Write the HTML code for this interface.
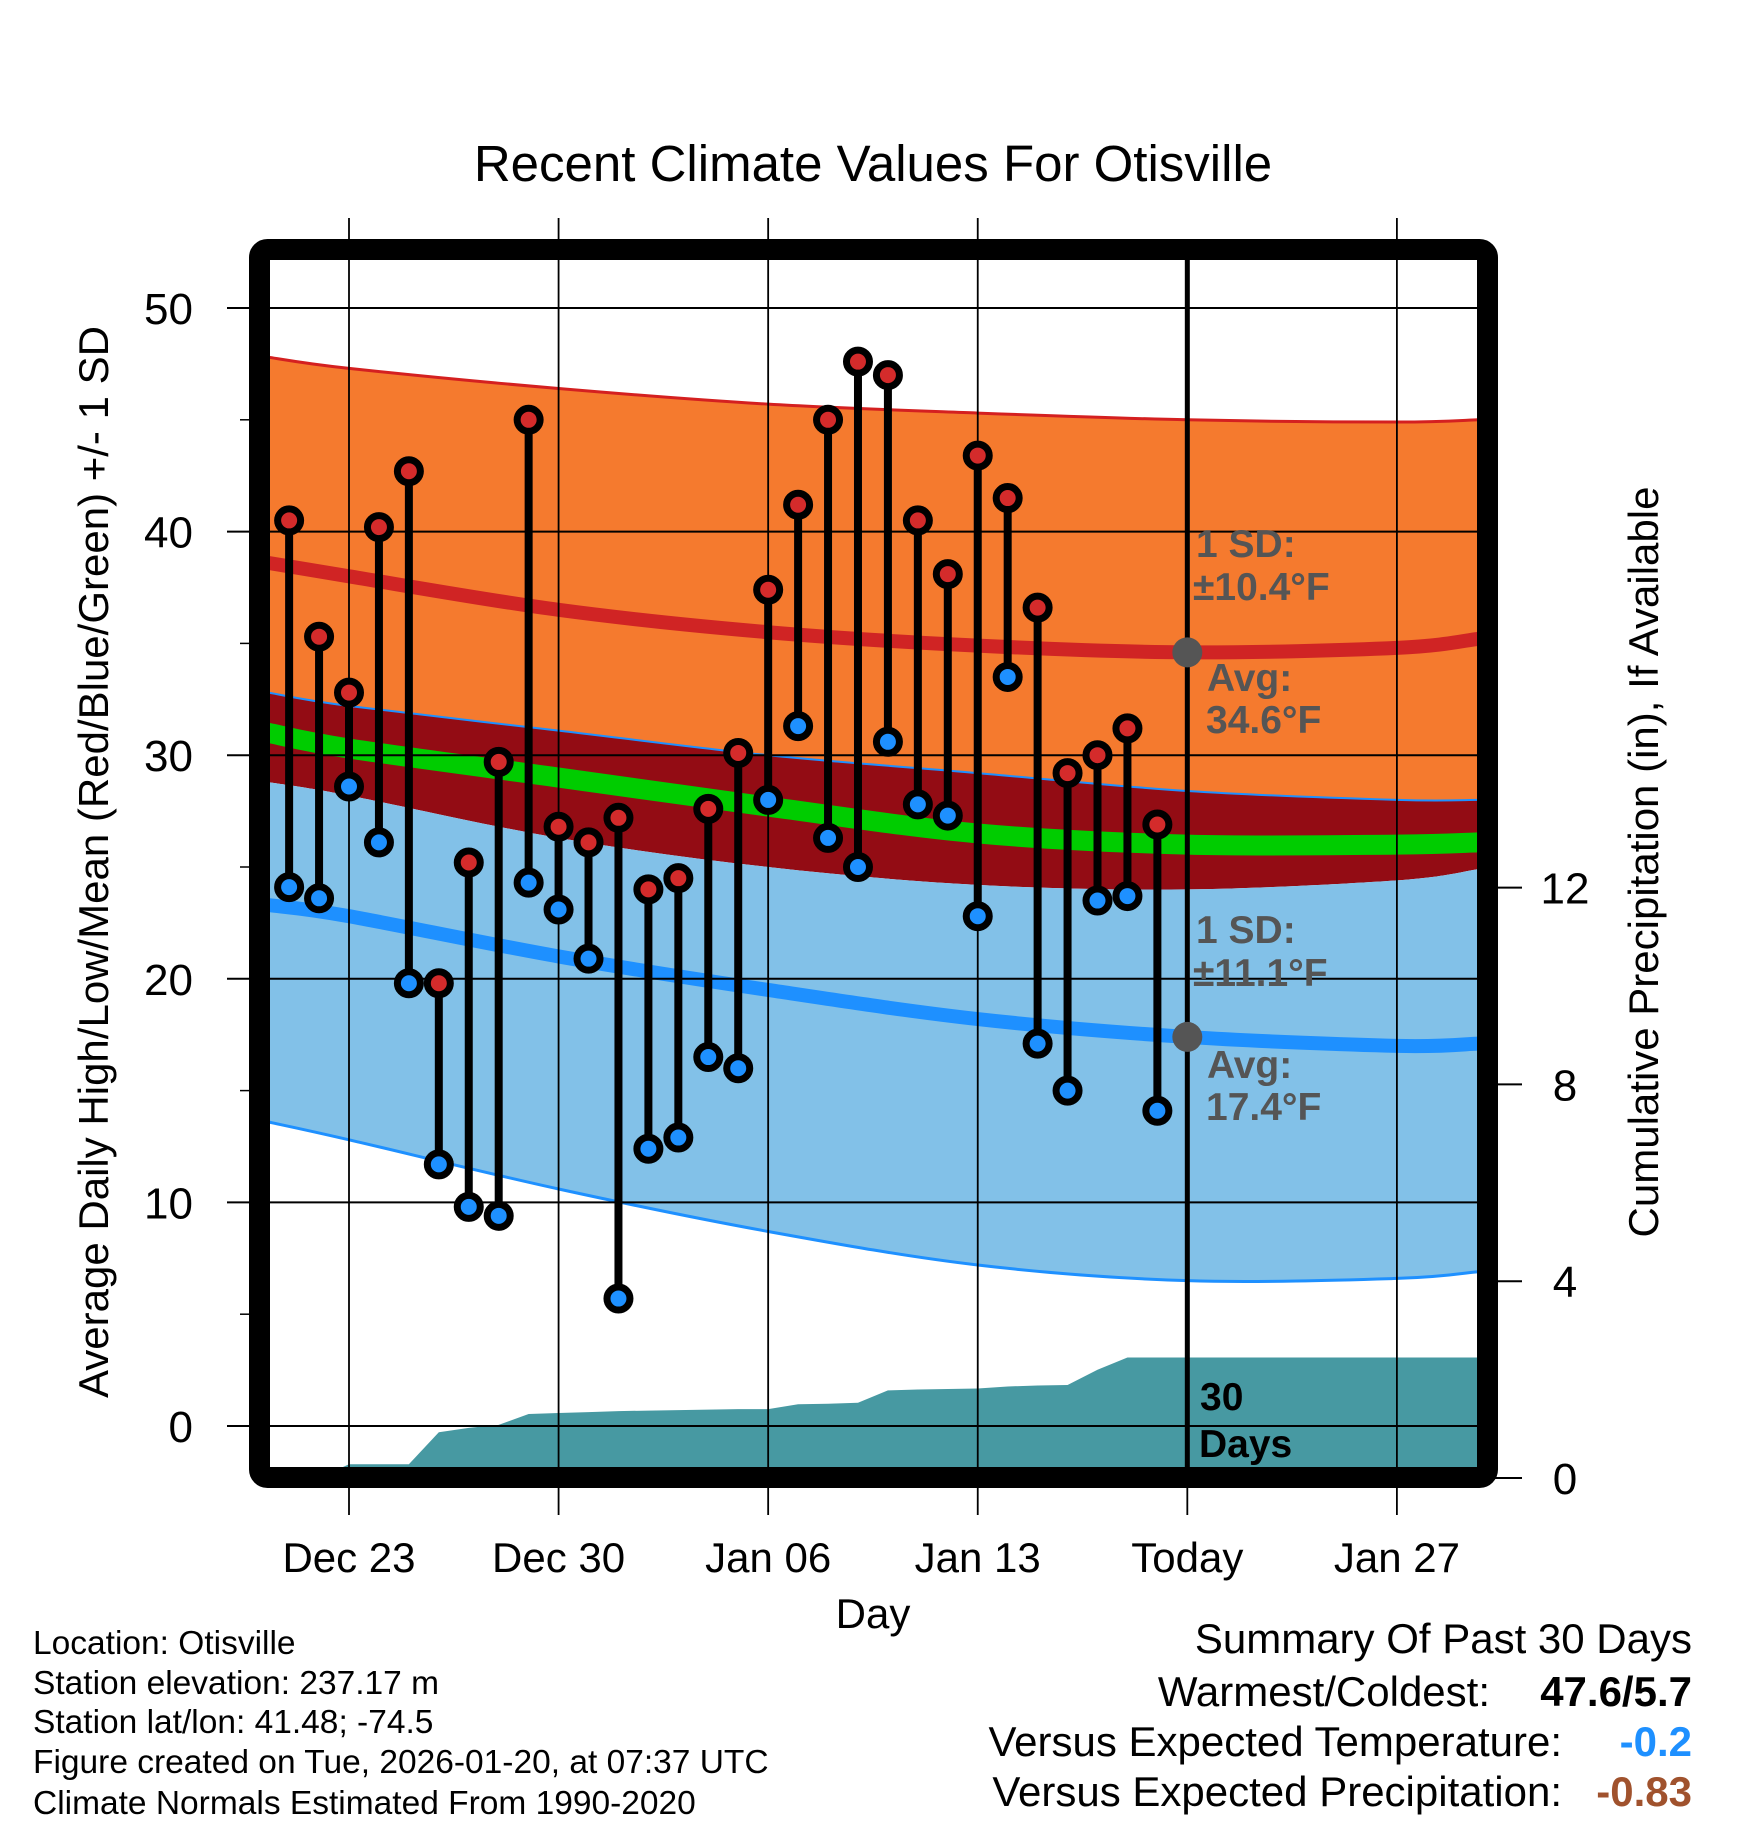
<!DOCTYPE html>
<html><head><meta charset="utf-8"><style>
html,body{margin:0;padding:0;background:#fff;}
svg{display:block;font-family:"Liberation Sans",Arial,sans-serif;}
</style></head><body>
<svg id="chart" width="1748" height="1828" viewBox="0 0 1748 1828" xmlns="http://www.w3.org/2000/svg">
<text x="873" y="181" font-size="51" text-anchor="middle">Recent Climate Values For Otisville</text>
<g id="plot"></g>
<g id="axes"></g>
<text transform="translate(108,862) rotate(-90)" font-size="42" text-anchor="middle">Average Daily High/Low/Mean (Red/Blue/Green) +/- 1 SD</text>
<text transform="translate(1658,862) rotate(-90)" font-size="42" text-anchor="middle">Cumulative Precipitation (in), If Available</text>
<text x="873" y="1628" font-size="42" text-anchor="middle">Day</text>
<g font-size="33.5">
<text x="33" y="1654">Location: Otisville</text>
<text x="33" y="1694">Station elevation: 237.17 m</text>
<text x="33" y="1733">Station lat/lon: 41.48; -74.5</text>
<text x="33" y="1773">Figure created on Tue, 2026-01-20, at 07:37 UTC</text>
<text x="33" y="1814">Climate Normals Estimated From 1990-2020</text>
</g>
<g font-size="42" text-anchor="end">
<text x="1692" y="1653">Summary Of Past 30 Days</text>
<text x="1490" y="1706">Warmest/Coldest:</text>
<text x="1692" y="1706" font-weight="bold">47.6/5.7</text>
<text x="1562" y="1756">Versus Expected Temperature:</text>
<text x="1692" y="1756" font-weight="bold" fill="#1e90ff">-0.2</text>
<text x="1562" y="1806">Versus Expected Precipitation:</text>
<text x="1692" y="1806" font-weight="bold" fill="#a0522d">-0.83</text>
</g>
</svg>
<script>
// ---- data ----
const days = [-2,-1,0,1,2,3,4,5,6,7,8,9,10,11,12,13,14,15,16,17,18,19,20,21,22,23,24,25,26,27];
const highs = [40.5,35.3,32.8,40.2,42.7,19.8,25.2,29.7,45.0,26.8,26.1,27.2,24.0,24.5,27.6,30.1,37.4,41.2,45.0,47.6,47.0,40.5,38.1,43.4,41.5,36.6,29.2,30.0,31.2,26.9];
const lows = [24.1,23.6,28.6,26.1,19.8,11.7,9.8,9.4,24.3,23.1,20.9,5.7,12.4,12.9,16.5,16.0,28.0,31.3,26.3,25.0,30.6,27.8,27.3,22.8,33.5,17.1,15.0,23.5,23.7,14.1];
const precip = [0,0,0.28,0.28,0.28,0.93,1.02,1.08,1.30,1.32,1.34,1.36,1.37,1.38,1.39,1.40,1.40,1.50,1.51,1.53,1.78,1.80,1.81,1.82,1.86,1.88,1.89,2.20,2.45,2.45];
const normDays = [-2.7,0,7,14,21,28,35,37.7];
const hiPlus = [47.8,47.3,46.4,45.7,45.3,45.0,44.9,45.0];
const hiAvg = [38.6,38.0,36.5,35.5,34.9,34.6,34.8,35.2];
const hiMinus = [32.8,32.2,31.1,30.0,29.2,28.4,28.0,28.0];
const meanAvg = [31.0,30.3,29.0,27.7,26.5,26.0,26.0,26.1];
const loPlus = [28.8,28.2,26.3,25.0,24.2,24.0,24.4,24.9];
const loAvg = [23.3,22.8,21.0,19.5,18.2,17.4,17.0,17.1];
const loMinus = [13.6,12.8,10.6,8.7,7.2,6.5,6.6,6.9];
const yTicks = [0,10,20,30,40,50];
const y2Ticks = [0,4,8,12];
const xTickDays = [0,7,14,21,28,35];
const xTickLabels = ["Dec 23","Dec 30","Jan 06","Jan 13","Today","Jan 27"];
const todayDay = 28;
const todayHi = 34.6, todayLo = 17.4;

// ---- axes ----
const L=270,R=1478,T=260,B=1468;
const X=d=>349+d*29.94;
const Y=v=>1426-v*22.36;
const P=v=>1478-v*49.2;
const NS='http://www.w3.org/2000/svg';
const plot=document.getElementById('plot'), axes=document.getElementById('axes');
function mk(tag,attrs,parent){const e=document.createElementNS(NS,tag);for(const k in attrs)e.setAttribute(k,attrs[k]);parent.appendChild(e);return e;}
function curvePts(arr){const pts=[];for(let i=0;i<normDays.length;i++)pts.push([X(normDays[i]),Y(arr[i])]);return pts;}
function cr(pts){let d='M'+pts[0][0]+','+pts[0][1];for(let i=0;i<pts.length-1;i++){const p0=pts[Math.max(0,i-1)],p1=pts[i],p2=pts[i+1],p3=pts[Math.min(pts.length-1,i+2)];
d+=' C'+(p1[0]+(p2[0]-p0[0])/6)+','+(p1[1]+(p2[1]-p0[1])/6)+' '+(p2[0]-(p3[0]-p1[0])/6)+','+(p2[1]-(p3[1]-p1[1])/6)+' '+p2[0]+','+p2[1];}return d;}
function band(top,bot,fill,name){const a=curvePts(top),b=curvePts(bot).reverse();
const rev=cr(b).replace(/^M/,' L');
const p=mk('path',{d:cr(a)+rev+' Z',fill:fill},plot);

}
const clip=mk('clipPath',{id:'cl'},mk('defs',{},plot));mk('rect',{x:L,y:T,width:R-L,height:B-T},clip);
plot.setAttribute('clip-path','url(#cl)');
band(hiPlus,hiMinus,'#f57a2e','high-sd-band');
band(hiMinus,loPlus,'#930c14','overlap-band');
band(loPlus,loMinus,'#82c1e8','low-sd-band');
function line(arr,col,w,name){const p=mk('path',{d:cr(curvePts(arr)),fill:'none',stroke:col,'stroke-width':w},plot);

}
line(hiPlus,'#d42020',3,'high-plus-sd-line');
line(hiMinus,'#1e90ff',2,'high-minus-sd-line');
line(loMinus,'#1e90ff',3,'low-minus-sd-line');
line(meanAvg,'#00cc00',20,'mean-avg-line');
line(hiAvg,'#d02424',14,'high-avg-line');
line(loAvg,'#1e90ff',14,'low-avg-line');
let pd='M'+X(days[0])+','+(B+5);
for(let i=0;i<days.length;i++)pd+=' L'+X(days[i])+','+P(precip[i]);
pd+=' L'+(R+5)+','+P(precip[precip.length-1])+' L'+(R+5)+','+(B+5)+' Z';
const pa=mk('path',{d:pd,fill:'#4799a2'},plot);


yTicks.forEach(v=>{const g=mk('line',{x1:227,x2:R,y1:Y(v),y2:Y(v),stroke:'#000','stroke-width':2},axes);


const t=mk('text',{x:193,y:Y(v)+16,'font-size':44,'text-anchor':'end'},axes);t.textContent=v;

});
[5,15,25,35,45].forEach(v=>{mk('line',{x1:240,x2:252,y1:Y(v),y2:Y(v),stroke:'#000','stroke-width':1.5},axes);});
xTickDays.forEach((d,i)=>{const g=mk('line',{x1:X(d),x2:X(d),y1:(d===todayDay?T:218),y2:1515,stroke:'#000','stroke-width':1.8},axes);


const t=mk('text',{x:X(d),y:1572,'font-size':42,'text-anchor':'middle'},axes);t.textContent=xTickLabels[i];

});
y2Ticks.forEach(v=>{mk('line',{x1:1495,x2:1522,y1:P(v),y2:P(v),stroke:'#000','stroke-width':2},axes);
const t=mk('text',{x:1565,y:P(v)+16,'font-size':44,'text-anchor':'middle'},axes);t.textContent=v;

});
const tl=mk('line',{x1:X(todayDay),x2:X(todayDay),y1:T,y2:B,stroke:'#000','stroke-width':5},axes);


for(let i=0;i<days.length;i++){const s=mk('line',{x1:X(days[i]),x2:X(days[i]),y1:Y(highs[i]),y2:Y(lows[i]),stroke:'#000','stroke-width':8},axes);

}
for(let i=0;i<days.length;i++){
const h=mk('circle',{cx:X(days[i]),cy:Y(highs[i]),r:11.5,fill:'#d42b2b',stroke:'#000','stroke-width':7},axes);


const l=mk('circle',{cx:X(days[i]),cy:Y(lows[i]),r:11.5,fill:'#1e90ff',stroke:'#000','stroke-width':7},axes);

}
[todayHi,todayLo].forEach(v=>{const c=mk('circle',{cx:X(todayDay),cy:Y(v),r:15,fill:'#555'},axes);

});
function txt(s,x,y,col,name){const t=mk('text',{x:x,y:y,'font-size':39,'font-weight':'bold',fill:col},axes);t.textContent=s;

}
txt('1 SD:',1196,557,'#555','high-sd-label');txt('±10.4°F',1193,600,'#555','high-sd-value');
txt('Avg:',1207,691,'#555','high-avg-label');txt('34.6°F',1206,733,'#555','high-avg-value');
txt('1 SD:',1196,943,'#555','low-sd-label');txt('±11.1°F',1193,986,'#555','low-sd-value');
txt('Avg:',1207,1078,'#555','low-avg-label');txt('17.4°F',1206,1120,'#555','low-avg-value');
txt('30',1200,1410,'#000','days-count');txt('Days',1199,1457,'#000','days-label');
const fr=mk('rect',{x:259.5,y:249.5,width:1228,height:1228,rx:8,fill:'none',stroke:'#000','stroke-width':21},axes);


</script>
</body></html>
